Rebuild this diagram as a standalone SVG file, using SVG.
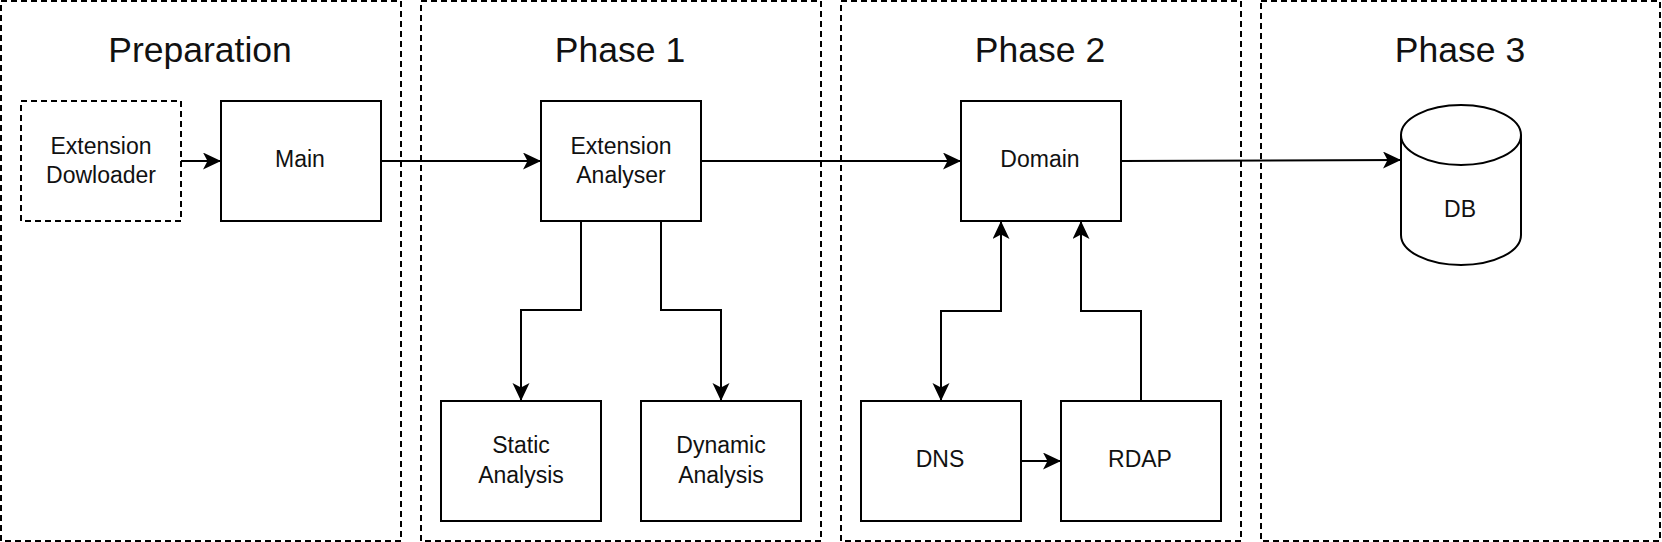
<svg xmlns="http://www.w3.org/2000/svg" width="1662" height="542" viewBox="0 0 1662 542">
<style>
.cont{fill:none;stroke:#000;stroke-width:2;stroke-dasharray:6 4}
.box{fill:#fff;stroke:#000;stroke-width:2}
.dbox{fill:#fff;stroke:#000;stroke-width:2;stroke-dasharray:6 4}
.title{font-family:"Liberation Sans",Arial,sans-serif;font-size:35.5px;fill:#111;text-anchor:middle}
.lbl{font-family:"Liberation Sans",Arial,sans-serif;font-size:23px;fill:#111;text-anchor:middle}
.edge{fill:none;stroke:#000;stroke-width:2}
</style>
<defs>
<marker id="arr" markerUnits="userSpaceOnUse" markerWidth="20" markerHeight="20" viewBox="0 0 20 20" refX="18" refY="8.5" orient="auto-start-reverse">
<path d="M0,0 L18,8.5 L0,17 L4.5,8.5 Z" fill="#000"/>
</marker>
</defs>
<g id="containers">
<g id="preparation"><rect class="cont" x="1" y="1" width="400" height="540"/><text class="title" x="200" y="62">Preparation</text></g>
<g id="phase1"><rect class="cont" x="421" y="1" width="400" height="540"/><text class="title" x="620" y="62">Phase 1</text></g>
<g id="phase2"><rect class="cont" x="841" y="1" width="400" height="540"/><text class="title" x="1040" y="62">Phase 2</text></g>
<g id="phase3"><rect class="cont" x="1261" y="1" width="399" height="540"/><text class="title" x="1460" y="62">Phase 3</text></g>
</g>
<g id="edges">
<path class="edge" d="M181,161 L221,161" marker-end="url(#arr)"/>
<path class="edge" d="M381,161 L541,161" marker-end="url(#arr)"/>
<path class="edge" d="M701,161 L961,161" marker-end="url(#arr)"/>
<path class="edge" d="M1121,161 L1401,160" marker-end="url(#arr)"/>
<path class="edge" d="M581,221 L581,310 L521,310 L521,401" marker-end="url(#arr)"/>
<path class="edge" d="M661,221 L661,310 L721,310 L721,401" marker-end="url(#arr)"/>
<path class="edge" d="M1001,221 L1001,311 L941,311 L941,401" marker-start="url(#arr)" marker-end="url(#arr)"/>
<path class="edge" d="M1141,401 L1141,311 L1081,311 L1081,221" marker-end="url(#arr)"/>
<path class="edge" d="M1021,461 L1061,461" marker-end="url(#arr)"/>
</g>
<g id="ext-downloader"><rect class="dbox" x="21" y="101" width="160" height="120"/><text class="lbl" x="101" y="154">Extension</text><text class="lbl" x="101" y="183">Dowloader</text></g>
<g id="main"><rect class="box" x="221" y="101" width="160" height="120"/><text class="lbl" x="300" y="167">Main</text></g>
<g id="ext-analyser"><rect class="box" x="541" y="101" width="160" height="120"/><text class="lbl" x="621" y="154">Extension</text><text class="lbl" x="621" y="183">Analyser</text></g>
<g id="static"><rect class="box" x="441" y="401" width="160" height="120"/><text class="lbl" x="521" y="453">Static</text><text class="lbl" x="521" y="483">Analysis</text></g>
<g id="dynamic"><rect class="box" x="641" y="401" width="160" height="120"/><text class="lbl" x="721" y="453">Dynamic</text><text class="lbl" x="721" y="483">Analysis</text></g>
<g id="domain"><rect class="box" x="961" y="101" width="160" height="120"/><text class="lbl" x="1040" y="167">Domain</text></g>
<g id="dns"><rect class="box" x="861" y="401" width="160" height="120"/><text class="lbl" x="940" y="467">DNS</text></g>
<g id="rdap"><rect class="box" x="1061" y="401" width="160" height="120"/><text class="lbl" x="1140" y="467">RDAP</text></g>
<g id="db">
<path class="box" d="M1401,135 A60,30 0 0 1 1521,135 L1521,235 A60,30 0 0 1 1401,235 Z"/>
<path class="edge" d="M1401,135 A60,30 0 0 0 1521,135"/>
<text class="lbl" x="1460" y="217">DB</text>
</g>
</svg>
